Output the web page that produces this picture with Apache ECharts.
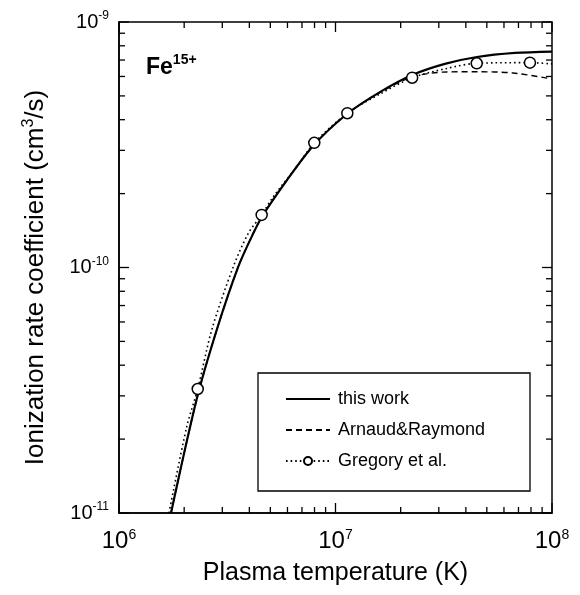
<!DOCTYPE html>
<html>
<head>
<meta charset="utf-8">
<script src="https://cdn.jsdelivr.net/npm/echarts@6.0.0/dist/echarts.min.js"></script>
<style>
  html, body { margin: 0; padding: 0; background: #fff; }
  #chart { width: 580px; height: 595px; }
</style>
</head>
<body>
<div id="chart"></div>
<script>
"use strict";

var FONT = "'Liberation Sans', Arial, sans-serif";

// this work (solid)
var thisWorkT = [1.739e6, 2.28e6, 2.827e6, 3.556e6, 4.172e6, 4.625e6, 5.97e6, 7.96e6, 1.13e7, 1.61e7, 2.26e7, 3.20e7, 4.50e7, 6.75e7, 1.0e8];
var thisWorkK = [1.0e-11, 2.886e-11, 5.564e-11, 1.0076e-10, 1.378e-10, 1.636e-10, 2.27e-10, 3.16e-10, 4.22e-10, 5.19e-10, 6.08e-10, 6.75e-10, 7.20e-10, 7.48e-10, 7.58e-10];

// Arnaud & Raymond (dashed)
var arnaudT = [1.739e6, 2.28e6, 2.827e6, 3.556e6, 4.172e6, 4.625e6, 5.97e6, 7.96e6, 1.13e7, 1.61e7, 2.26e7, 3.26e7, 4.49e7, 6.61e7, 1.0e8];
var arnaudK = [1.0e-11, 2.886e-11, 5.564e-11, 1.0076e-10, 1.378e-10, 1.636e-10, 2.27e-10, 3.16e-10, 4.22e-10, 5.17e-10, 5.97e-10, 6.26e-10, 6.27e-10, 6.20e-10, 5.86e-10];

// Gregory et al. - measured points (circles)
var gregoryT = [2.31e6, 4.56e6, 7.98e6, 1.134e7, 2.26e7, 4.49e7, 7.91e7];
var gregoryK = [3.20e-11, 1.637e-10, 3.22e-10, 4.25e-10, 5.93e-10, 6.79e-10, 6.83e-10];

// Gregory et al. - dotted fit between the circles
var gregoryFitT = [1.702e6, 2.055e6, 2.681e6, 3.373e6, 3.956e6, 5.16e6, 6.62e6, 1.606e7, 3.263e7, 1.0e8];
var gregoryFitK = [1.0e-11, 2.246e-11, 5.564e-11, 1.0076e-10, 1.378e-10, 1.943e-10, 2.573e-10, 5.09e-10, 6.47e-10, 6.75e-10];

// tick marks
var xMajorTicks = [1e6, 1e7, 1e8];
var xMinorTicks = [2e6, 3e6, 4e6, 5e6, 6e6, 7e6, 8e6, 9e6, 2e7, 3e7, 4e7, 5e7, 6e7, 7e7, 8e7, 9e7];
var yMajorTicks = [1e-11, 1e-10, 1e-9];
var yMinorTicks = [2e-11, 3e-11, 4e-11, 5e-11, 6e-11, 7e-11, 8e-11, 9e-11, 2e-10, 3e-10, 4e-10, 5e-10, 6e-10, 7e-10, 8e-10, 9e-10];

var X_MIN = 1e6, X_MAX = 1e8, Y_MIN = 1e-11, Y_MAX = 1e-9;

function zip(a, b) {
    return a.map(function (v, i) { return [v, b[i]]; });
}

function gregoryData() {
    var pts = [];
    gregoryFitT.forEach(function (t, i) {
        pts.push({ value: [t, gregoryFitK[i]], symbol: 'none' });
    });
    gregoryT.forEach(function (t, i) {
        pts.push({ value: [t, gregoryK[i]] });
    });
    pts.sort(function (a, b) { return a.value[0] - b.value[0]; });
    return pts;
}

function expLabel(v) {
    var e = Math.round(Math.log10(v));
    return '{b|10}{s|' + e + '}';
}

var MAJOR_LEN = 10, MINOR_LEN = 6;

function xTickItem(params, api) {
    var v = api.value(0);
    var len = api.value(1) ? MAJOR_LEN : MINOR_LEN;
    var bot = api.coord([v, Y_MIN]);
    var top = api.coord([v, Y_MAX]);
    var st = { stroke: '#000', lineWidth: 1.3 };
    return {
        type: 'group',
        children: [
            { type: 'line', shape: { x1: bot[0], y1: bot[1], x2: bot[0], y2: bot[1] - len }, style: st },
            { type: 'line', shape: { x1: top[0], y1: top[1], x2: top[0], y2: top[1] + len }, style: st }
        ]
    };
}

function yTickItem(params, api) {
    var v = api.value(0);
    var len = api.value(1) ? MAJOR_LEN : MINOR_LEN;
    var l = api.coord([X_MIN, v]);
    var r = api.coord([X_MAX, v]);
    var st = { stroke: '#000', lineWidth: 1.3 };
    return {
        type: 'group',
        children: [
            { type: 'line', shape: { x1: l[0], y1: l[1], x2: l[0] + len, y2: l[1] }, style: st },
            { type: 'line', shape: { x1: r[0], y1: r[1], x2: r[0] - len, y2: r[1] }, style: st }
        ]
    };
}

var chart = echarts.init(document.getElementById('chart'), null, { renderer: 'canvas' });

var option = {
    animation: false,
    backgroundColor: '#fff',
    textStyle: { fontFamily: FONT, color: '#000' },
    title: {
        text: '{a|Fe}{b|15+}',
        left: 141,
        top: 48,
        textStyle: {
            rich: {
                a: { fontFamily: FONT, fontSize: 23, fontWeight: 'bold', color: '#000', lineHeight: 30 },
                b: { fontFamily: FONT, fontSize: 14, fontWeight: 'bold', color: '#000', verticalAlign: 'top', lineHeight: 14 }
            }
        }
    },
    grid: {
        left: 119, right: 28, top: 22, bottom: 82,
        show: true, borderColor: '#000', borderWidth: 1.5,
        outerBoundsMode: 'none'
    },
    legend: {
        data: [
            { name: 'this work', itemStyle: { opacity: 0 } },
            { name: 'Arnaud&Raymond', itemStyle: { opacity: 0 } },
            { name: 'Gregory et al.' }
        ],
        orient: 'vertical',
        left: 285,
        top: 389,
        itemWidth: 44,
        itemHeight: 10,
        itemGap: 11,
        padding: 0,
        textStyle: { fontFamily: FONT, fontSize: 18, color: '#000', lineHeight: 20, padding: [0, 0, 0, 3] }
    },
    graphic: [{
        type: 'rect',
        shape: { x: 258, y: 373, width: 272, height: 118 },
        style: { fill: null, stroke: '#000', lineWidth: 1.3 },
        z: 5
    }],
    xAxis: {
        type: 'log',
        logBase: 10,
        min: X_MIN,
        max: X_MAX,
        name: 'Plasma temperature (K)',
        nameLocation: 'middle',
        nameGap: 48,
        nameTextStyle: { fontFamily: FONT, fontSize: 25, color: '#000' },
        axisLine: { lineStyle: { color: '#000', width: 1.5 } },
        axisTick: { show: false },
        splitLine: { show: false },
        axisLabel: {
            margin: 15,
            formatter: expLabel,
            rich: {
                b: { fontFamily: FONT, fontSize: 24, color: '#000', lineHeight: 27 },
                s: { fontFamily: FONT, fontSize: 14, color: '#000', verticalAlign: 'top', lineHeight: 14 }
            }
        }
    },
    yAxis: {
        type: 'log',
        logBase: 10,
        min: Y_MIN,
        max: Y_MAX,
        name: '{t|Ionization rate coefficient (cm}{s|3}{t|/s)}',
        nameLocation: 'middle',
        nameGap: 68,
        nameRotate: 90,
        nameTextStyle: {
            padding: [0, 20, 0, 0],
            rich: {
                t: { fontFamily: FONT, fontSize: 26, color: '#000', lineHeight: 30 },
                s: { fontFamily: FONT, fontSize: 16, color: '#000', verticalAlign: 'top', lineHeight: 16 }
            }
        },
        axisLine: { lineStyle: { color: '#000', width: 1.5 } },
        axisTick: { show: false },
        splitLine: { show: false },
        axisLabel: {
            margin: 10,
            formatter: expLabel,
            rich: {
                b: { fontFamily: FONT, fontSize: 20, color: '#000', lineHeight: 24 },
                s: { fontFamily: FONT, fontSize: 12, color: '#000', verticalAlign: 'top', lineHeight: 12 }
            }
        }
    },
    series: [
        {
            name: 'this work',
            type: 'line',
            data: zip(thisWorkT, thisWorkK),
            smooth: 0.3,
            symbol: 'none',
            clip: true,
            lineStyle: { color: '#000', width: 2.2 },
            itemStyle: { color: '#000' },
            z: 4
        },
        {
            name: 'Arnaud&Raymond',
            type: 'line',
            data: zip(arnaudT, arnaudK),
            smooth: 0.3,
            symbol: 'none',
            clip: true,
            lineStyle: { color: '#000', width: 1.4, type: [6, 4] },
            itemStyle: { color: '#000' },
            z: 3
        },
        {
            name: 'Gregory et al.',
            type: 'line',
            data: gregoryData(),
            smooth: 0.3,
            symbol: 'circle',
            symbolSize: 11,
            clip: true,
            lineStyle: { color: '#000', width: 1.6, type: [1.6, 3] },
            itemStyle: { color: '#fff', borderColor: '#000', borderWidth: 1.5 },
            z: 5
        },
        {
            name: 'xticks',
            type: 'custom',
            renderItem: xTickItem,
            data: xMajorTicks.map(function (v) { return [v, 1]; })
                .concat(xMinorTicks.map(function (v) { return [v, 0]; })),
            encode: { x: 0 },
            clip: false,
            silent: true,
            z: 6
        },
        {
            name: 'yticks',
            type: 'custom',
            renderItem: yTickItem,
            data: yMajorTicks.map(function (v) { return [v, 1]; })
                .concat(yMinorTicks.map(function (v) { return [v, 0]; })),
            encode: { y: 0 },
            clip: false,
            silent: true,
            z: 6
        }
    ]
};

chart.setOption(option);
</script>
</body>
</html>
